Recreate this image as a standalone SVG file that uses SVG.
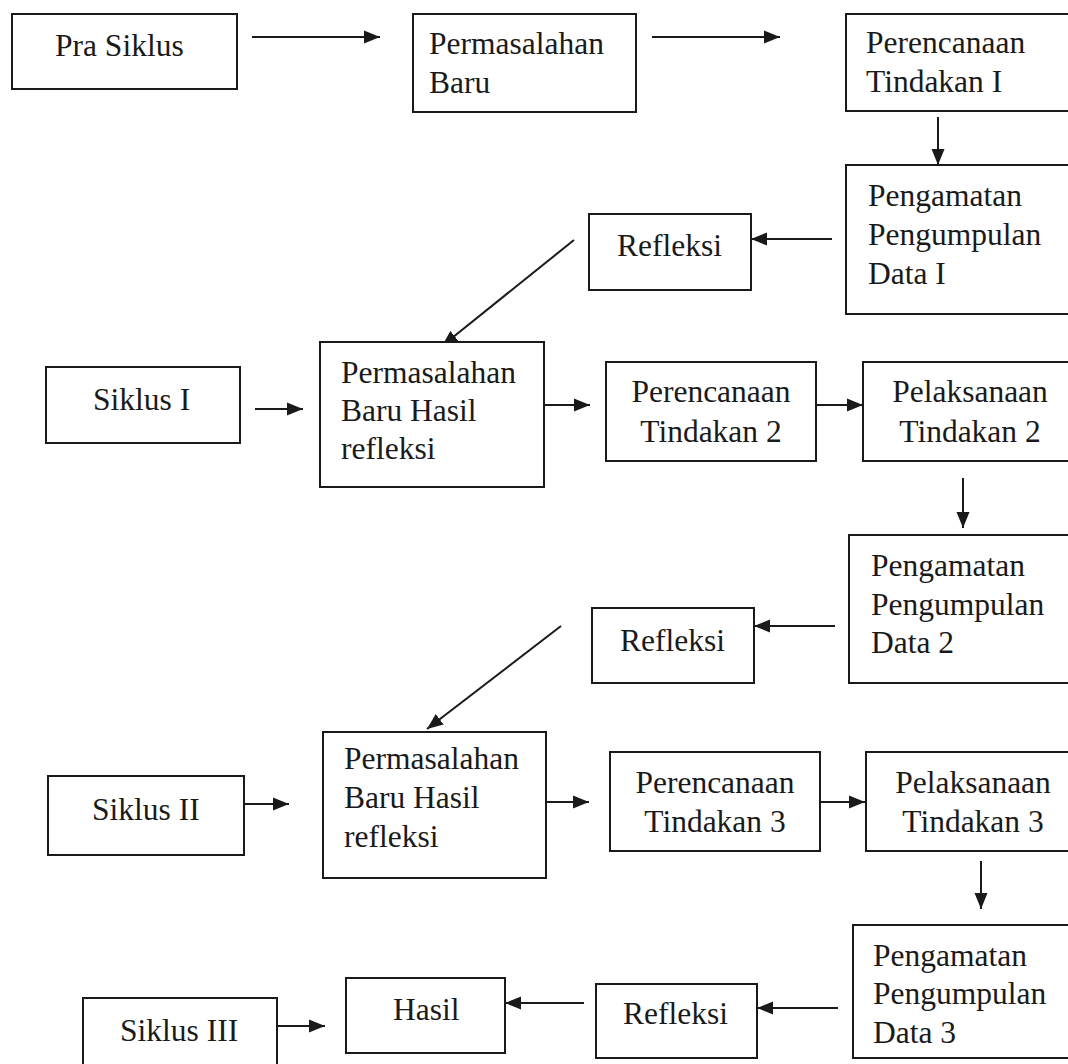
<svg xmlns="http://www.w3.org/2000/svg" width="1068" height="1064" viewBox="0 0 1068 1064">
<style>
.box{fill:#fff;stroke:#1a1a1a;stroke-width:2}
.t{font-family:'Times New Roman','Liberation Serif',Tinos,'DejaVu Serif',serif;font-size:31.5px;fill:#1a1a1a}
.c{text-anchor:middle}
.ln{stroke:#1a1a1a;stroke-width:2;fill:none;marker-end:url(#ah)}
</style>
<defs>
<marker id="ah" markerUnits="userSpaceOnUse" markerWidth="17" markerHeight="14" refX="16" refY="7" orient="auto">
<path d="M0,0.5 L16,7 L0,13.5 Z" fill="#1a1a1a"/>
</marker>
</defs>
<rect width="1068" height="1064" fill="#fff"/>
<g id="connectors">
<line class="ln" x1="252" y1="37" x2="380" y2="37"/>
<line class="ln" x1="652" y1="37" x2="780" y2="37"/>
<line class="ln" x1="938" y1="117" x2="938" y2="165"/>
<line class="ln" x1="832" y1="239" x2="751" y2="239"/>
<line class="ln" x1="574" y1="240" x2="442" y2="346"/>
<line class="ln" x1="255" y1="409" x2="303" y2="409"/>
<line class="ln" x1="544" y1="405" x2="590" y2="405"/>
<line class="ln" x1="816" y1="405" x2="863" y2="405"/>
<line class="ln" x1="963" y1="478" x2="963" y2="528"/>
<line class="ln" x1="835" y1="626" x2="754" y2="626"/>
<line class="ln" x1="561" y1="626" x2="427" y2="729"/>
<line class="ln" x1="243" y1="804" x2="289" y2="804"/>
<line class="ln" x1="541" y1="802" x2="589" y2="802"/>
<line class="ln" x1="820" y1="802" x2="865" y2="802"/>
<line class="ln" x1="981" y1="861" x2="981" y2="909"/>
<line class="ln" x1="838" y1="1008" x2="757" y2="1008"/>
<line class="ln" x1="584" y1="1003" x2="505" y2="1003"/>
<line class="ln" x1="277" y1="1026" x2="325" y2="1026"/>
</g>
<g id="pra-siklus"><rect class="box" x="12" y="14" width="225" height="75"/><text class="t" x="55" y="56">Pra Siklus</text></g>
<g id="permasalahan-baru"><rect class="box" x="413" y="14" width="223" height="98"/><text class="t" x="429" y="54">Permasalahan</text><text class="t" x="429" y="93">Baru</text></g>
<g id="perencanaan-1"><rect class="box" x="846" y="14" width="240" height="97"/><text class="t" x="866" y="53">Perencanaan</text><text class="t" x="866" y="92">Tindakan I</text></g>
<g id="pengamatan-1"><rect class="box" x="846" y="165" width="240" height="149"/><text class="t" x="868" y="206">Pengamatan</text><text class="t" x="868" y="245">Pengumpulan</text><text class="t" x="868" y="284">Data I</text></g>
<g id="refleksi-1"><rect class="box" x="589" y="214" width="162" height="76"/><text class="t" x="617" y="256">Refleksi</text></g>
<g id="siklus-1"><rect class="box" x="46" y="367" width="194" height="76"/><text class="t" x="93" y="410">Siklus I</text></g>
<g id="permasalahan-hasil-1"><rect class="box" x="320" y="342" width="224" height="145"/><text class="t" x="341" y="383">Permasalahan</text><text class="t" x="341" y="421">Baru Hasil</text><text class="t" x="341" y="459">refleksi</text></g>
<g id="perencanaan-2"><rect class="box" x="606" y="362" width="210" height="99"/><text class="t c" x="711" y="402">Perencanaan</text><text class="t c" x="711" y="442">Tindakan 2</text></g>
<g id="pelaksanaan-2"><rect class="box" x="863" y="362" width="223" height="99"/><text class="t c" x="970" y="402">Pelaksanaan</text><text class="t c" x="970" y="442">Tindakan 2</text></g>
<g id="pengamatan-2"><rect class="box" x="849" y="535" width="237" height="148"/><text class="t" x="871" y="576">Pengamatan</text><text class="t" x="871" y="615">Pengumpulan</text><text class="t" x="871" y="653">Data 2</text></g>
<g id="refleksi-2"><rect class="box" x="592" y="608" width="162" height="75"/><text class="t" x="620" y="651">Refleksi</text></g>
<g id="siklus-2"><rect class="box" x="48" y="776" width="196" height="79"/><text class="t" x="92" y="820">Siklus II</text></g>
<g id="permasalahan-hasil-2"><rect class="box" x="323" y="732" width="223" height="146"/><text class="t" x="344" y="769">Permasalahan</text><text class="t" x="344" y="808">Baru Hasil</text><text class="t" x="344" y="847">refleksi</text></g>
<g id="perencanaan-3"><rect class="box" x="610" y="752" width="210" height="99"/><text class="t c" x="715" y="793">Perencanaan</text><text class="t c" x="715" y="832">Tindakan 3</text></g>
<g id="pelaksanaan-3"><rect class="box" x="866" y="752" width="220" height="99"/><text class="t c" x="973" y="793">Pelaksanaan</text><text class="t c" x="973" y="832">Tindakan 3</text></g>
<g id="pengamatan-3"><rect class="box" x="853" y="925" width="233" height="133"/><text class="t" x="873" y="966">Pengamatan</text><text class="t" x="873" y="1004">Pengumpulan</text><text class="t" x="873" y="1043">Data 3</text></g>
<g id="refleksi-3"><rect class="box" x="596" y="984" width="161" height="74"/><text class="t" x="623" y="1024">Refleksi</text></g>
<g id="hasil"><rect class="box" x="346" y="978" width="159" height="75"/><text class="t" x="393" y="1020">Hasil</text></g>
<g id="siklus-3"><rect class="box" x="83" y="998" width="194" height="90"/><text class="t" x="120" y="1041">Siklus III</text></g>
</svg>
